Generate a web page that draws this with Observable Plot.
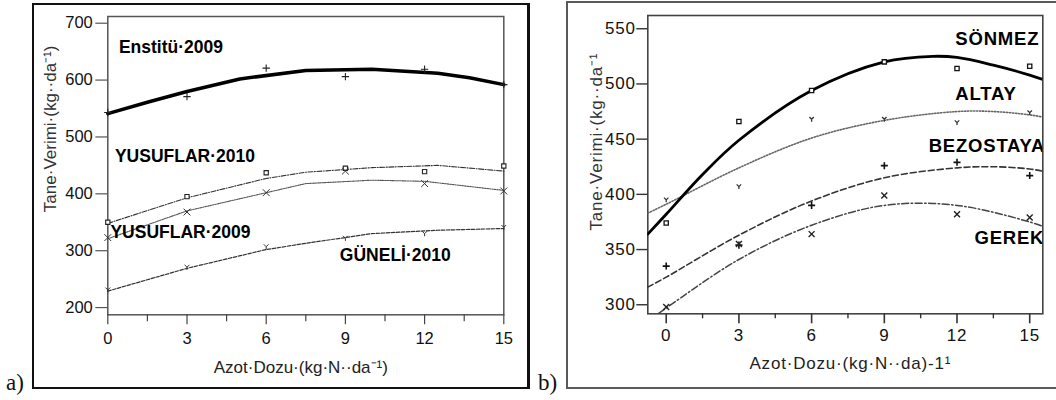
<!DOCTYPE html>
<html><head><meta charset="utf-8">
<script src="https://cdn.jsdelivr.net/npm/d3@7"></script>
<script src="https://cdn.jsdelivr.net/npm/@observablehq/plot@0.6"></script>
<style>
body{margin:0;background:#fff;}
#root{position:relative;width:1056px;height:400px;overflow:hidden;background:#fff;font-family:"Liberation Sans",Arial,sans-serif;}
#pa svg,#pb svg{position:absolute;top:0;}
#pa svg{left:0;}
#pb svg{left:540px;}
.box{position:absolute;box-sizing:border-box;pointer-events:none;}
.tag{position:absolute;font-family:"Liberation Serif","Times New Roman",serif;font-size:23px;color:#111;line-height:1;}
</style></head><body>
<div id="root">
 <div id="pa"></div><div id="pb"></div>
 <div class="box" style="left:32px;top:3px;width:498px;height:386px;border:2.5px solid #111;border-right-width:3.5px"></div>
 <div class="box" style="left:566px;top:1px;width:600px;height:388px;border:2.5px solid #5a5a5a"></div>
 <div class="tag" style="left:6px;top:371px">a)</div>
 <div class="tag" style="left:538px;top:371px">b)</div>
</div>
<script>
// ---------- shared ----------
const dose = [0, 3, 6, 9, 12, 15];
const minorDose = [1.5, 4.5, 7.5, 10.5, 13.5];
const tickA = [200, 300, 400, 500, 600, 700];
const tickB = [300, 350, 400, 450, 500, 550];

// ---------- panel a: observed ----------
const enstitu09 = [543, 571, 621, 606, 619, 592];
const yusuflar10 = [350, 395, 437, 445, 439, 449];
const yusuflar09 = [323, 368, 402, 440, 418, 405];
const guneli10 = [231, 271, 307, 322, 330, 341];
// panel a: fitted curves read at their knots
const enstituFitX = [0, 1.5, 3, 5, 7.5, 10, 12.5, 13.7, 15];
const enstituFitY = [541, 561, 580, 602, 617, 619, 612, 604, 592];
const yus10FitX = [0, 3, 6, 7.5, 10, 12.5, 15];
const yus10FitY = [348, 393, 427, 438, 446, 450, 440];
const yus09FitX = [0, 3, 6, 7.5, 10, 12, 15];
const yus09FitY = [321, 370, 402, 418, 424, 422, 406];
const gun10FitX = [0, 3, 6, 7.5, 10, 12.5, 15];
const gun10FitY = [229, 269, 302, 313, 330, 336, 339];
const labelsA = ["Enstitü·2009", "YUSUFLAR·2010", "YUSUFLAR·2009", "GÜNELİ·2010"];
const labelAX = [0.42, 0.27, 0.1, 8.79];
const labelAY = [657, 466, 333, 291];

// ---------- panel b: observed ----------
const sonmez = [374, 466, 494, 520, 514, 516];
const altay = [395, 407, 468, 468, 465, 474];
const bezostaya = [335, 354, 390, 426, 429, 417];
const gerek = [298, 355, 364, 399, 382, 379];
// panel b: fitted curves read at knots
const sonmezFitX = [-0.76, 0, 1.5, 3, 6, 9, 11, 12, 13.5, 15, 15.54];
const sonmezFitY = [364, 382, 418, 449, 494, 520, 525, 524, 517, 508, 504];
const altayFitX = [-0.76, 0, 3, 6, 9, 12, 13.5, 15, 15.54];
const altayFitY = [383, 391, 424, 451, 467, 475, 475, 472, 470];
const bezFitX = [-0.76, 0, 3, 6, 9, 12, 13.5, 15, 15.54];
const bezFitY = [316, 325, 363, 394, 415, 424, 425, 423, 421];
const gerekFitX = [-0.76, 0, 3, 6, 9, 12, 15, 15.54];
const gerekFitY = [285, 297, 341, 372, 390, 390, 375, 371];
const labelsB = ["SÖNMEZ", "ALTAY", "BEZOSTAYA", "GEREK"];
const labelBX = [11.93, 11.93, 10.83, 12.72];
const labelBY = [541, 490.5, 443.7, 360.7];

const xTitleA = "Azot·Dozu·(kg·N··da⁻¹)";
const yTitleA = "Tane·Verimi·(kg··da⁻¹)";
const xTitleB = "Azot·Dozu·(kg·N··da)-1¹";
const yTitleB = "Tane·Verimi·(kg··da⁻¹";

const rows = (xs, ys) => xs.map((x, i) => ({x, y: ys[i]}));
const obs = ys => dose.map((x, i) => ({x, y: ys[i]}));
const lab = (ts, xs, ys) => ts.map((t, i) => ({t, x: xs[i], y: ys[i]}));

const Ysym = {
  draw(ctx, size) {
    const s = Math.sqrt(size) * 0.45;
    ctx.moveTo(-s, -s); ctx.lineTo(0, 0); ctx.lineTo(s, -s);
    ctx.moveTo(0, 0); ctx.lineTo(0, s * 1.1);
  }
};

const FONT = "Liberation Sans, Arial, sans-serif";

// ---------- panel a ----------
const plotA = Plot.plot({
  width: 540, height: 400,
  marginLeft: 107.3, marginRight: 36.7, marginTop: 16, marginBottom: 85.7,
  style: {background: "transparent", fontFamily: FONT, fontSize: "16.5px", color: "#111", overflow: "visible"},
  x: {domain: [0, 15], label: null},
  y: {domain: [187.3, 711.8], label: null},
  marks: [
    Plot.frame({stroke: "#555", strokeWidth: 1.5}),
    Plot.axisY({ticks: tickA, tickSize: 12, tickPadding: 3, stroke: "#555", strokeWidth: 1.2, fontSize: 16.5, label: null}),
    Plot.axisX({ticks: dose, tickSize: 10, tickPadding: 7, stroke: "#444", strokeWidth: 1.2, fontSize: 16.5, label: null}),
    Plot.axisX({ticks: minorDose, tickSize: 7, tickFormat: () => "", stroke: "#444", strokeWidth: 1.2, label: null}),
    Plot.line(rows(enstituFitX, enstituFitY), {x: "x", y: "y", stroke: "#000", strokeWidth: 3.5}),
    Plot.line(rows(yus10FitX, yus10FitY), {x: "x", y: "y", stroke: "#333", strokeWidth: 1.1, strokeDasharray: "5,1.5,1,1.5"}),
    Plot.line(rows(yus09FitX, yus09FitY), {x: "x", y: "y", stroke: "#555", strokeWidth: 1.1, strokeDasharray: "1.5,1"}),
    Plot.line(rows(gun10FitX, gun10FitY), {x: "x", y: "y", stroke: "#333", strokeWidth: 1.2, strokeDasharray: "3.5,1.5"}),
    Plot.dot(obs(enstitu09), {x: "x", y: "y", symbol: "plus", r: 2.5, stroke: "#222", strokeWidth: 1.1}),
    Plot.dot(obs(yusuflar10), {x: "x", y: "y", symbol: "square", r: 2.4, fill: "white", stroke: "#222", strokeWidth: 1.1}),
    Plot.dot(obs(yusuflar09), {x: "x", y: "y", symbol: "times", r: 3.2, stroke: "#333", strokeWidth: 1}),
    Plot.dot(obs(guneli10), {x: "x", y: "y", symbol: Ysym, r: 3, fill: "none", stroke: "#333", strokeWidth: 1}),
    Plot.text(lab(labelsA, labelAX, labelAY), {x: "x", y: "y", text: "t", textAnchor: "start", fontWeight: "bold", fontSize: 17.5, fill: "#000"}),
    Plot.text([xTitleA], {text: d => d, frameAnchor: "bottom", dx: -5, dy: 52.4, lineAnchor: "middle", fontSize: 17, fill: "#222"}),
    Plot.text([yTitleA], {text: d => d, frameAnchor: "left", rotate: -90, dx: -57.3, dy: -36.8, lineAnchor: "middle", textAnchor: "middle", fontSize: 17, fill: "#333"})
  ]
});
document.getElementById("pa").append(plotA);

// ---------- panel b ----------
const plotB = Plot.plot({
  width: 516, height: 400,
  marginLeft: 107.3, marginRight: 13.7, marginTop: 15, marginBottom: 86.7,
  style: {background: "transparent", fontFamily: FONT, fontSize: "17px", letterSpacing: "0.8px", color: "#111", overflow: "visible"},
  x: {domain: [-0.76, 15.54], label: null},
  y: {domain: [291.8, 562], label: null},
  marks: [
    Plot.frame({stroke: "#444", strokeWidth: 1.6}),
    Plot.axisY({ticks: tickB, tickSize: 11, tickPadding: 1, stroke: "#333", strokeWidth: 1.4, fontSize: 17, label: null}),
    Plot.axisX({ticks: dose, tickSize: 10, tickPadding: 5, stroke: "#333", strokeWidth: 1.6, fontSize: 17, label: null}),
    Plot.axisX({ticks: minorDose, tickSize: 5, tickFormat: () => "", stroke: "#333", strokeWidth: 1.4, label: null}),
    Plot.line(rows(altayFitX, altayFitY), {x: "x", y: "y", curve: "catmull-rom", clip: true, stroke: "#666", strokeWidth: 1.6, strokeDasharray: "1.3,1.7"}),
    Plot.line(rows(bezFitX, bezFitY), {x: "x", y: "y", curve: "catmull-rom", clip: true, stroke: "#333", strokeWidth: 1.6, strokeDasharray: "6,3"}),
    Plot.line(rows(gerekFitX, gerekFitY), {x: "x", y: "y", curve: "catmull-rom", clip: true, stroke: "#444", strokeWidth: 1.5, strokeDasharray: "7,2.5,1.5,2.5"}),
    Plot.line(rows(sonmezFitX, sonmezFitY), {x: "x", y: "y", curve: "catmull-rom", clip: true, stroke: "#000", strokeWidth: 2.8}),
    Plot.dot(obs(sonmez), {x: "x", y: "y", symbol: "square", r: 2.4, fill: "white", stroke: "#111", strokeWidth: 1.3}),
    Plot.dot(obs(altay), {x: "x", y: "y", symbol: Ysym, r: 2.8, fill: "none", stroke: "#333", strokeWidth: 1.3}),
    Plot.dot(obs(bezostaya), {x: "x", y: "y", symbol: "plus", r: 2.4, stroke: "#111", strokeWidth: 1.6}),
    Plot.dot(obs(gerek), {x: "x", y: "y", symbol: "times", r: 2.8, stroke: "#222", strokeWidth: 1.4}),
    Plot.text(lab(labelsB, labelBX, labelBY), {x: "x", y: "y", text: "t", textAnchor: "start", fontWeight: "bold", fontSize: 18.5, fill: "#000", clip: true}),
    Plot.text([xTitleB], {text: d => d, frameAnchor: "bottom", dx: 5, dy: 50, lineAnchor: "middle", fontSize: 17, fill: "#222"}),
    Plot.text([yTitleB], {text: d => d, frameAnchor: "left", rotate: -90, dx: -51.3, dy: -23, lineAnchor: "middle", textAnchor: "middle", fontSize: 17, fill: "#333"})
  ]
});
document.getElementById("pb").append(plotB);
</script>
</body></html>
